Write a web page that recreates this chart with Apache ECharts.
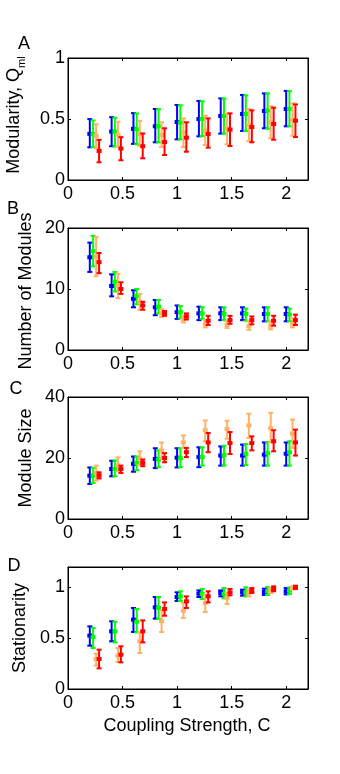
<!DOCTYPE html>
<html>
<head>
<meta charset="utf-8">
<script src="https://cdn.jsdelivr.net/npm/echarts@6/dist/echarts.min.js"></script>
<style>
  html, body { margin: 0; padding: 0; background: #fff; }
  #chart { width: 340px; height: 774px; }
</style>
</head>
<body>
<div id="chart"></div>
<script>
// coupling strengths (blue series position, others shifted right)
const couplings = [0.2, 0.4, 0.6, 0.8, 1.0, 1.2, 1.4, 1.6, 1.8, 2.0]
const shifts = [0, 0.03, 0.058, 0.085]
const seriesColors = ['#0000ff', '#00ff00', '#ffb266', '#ff0000']

// A: modularity [mean, low, high]
const qBlue = [[0.378, 0.268, 0.499], [0.397, 0.277, 0.515], [0.419, 0.296, 0.548], [0.44, 0.309, 0.582], [0.475, 0.333, 0.615], [0.5, 0.358, 0.648], [0.525, 0.38, 0.669], [0.541, 0.402, 0.697], [0.566, 0.424, 0.71], [0.582, 0.44, 0.73]]
const qGreen = [[0.375, 0.27, 0.488], [0.395, 0.274, 0.51], [0.416, 0.293, 0.545], [0.44, 0.309, 0.58], [0.47, 0.333, 0.612], [0.5, 0.36, 0.645], [0.525, 0.38, 0.668], [0.541, 0.402, 0.694], [0.57, 0.42, 0.71], [0.582, 0.44, 0.728]]
const qOrange = [[0.362, 0.26, 0.458], [0.37, 0.274, 0.477], [0.378, 0.28, 0.485], [0.369, 0.27, 0.473], [0.39, 0.27, 0.505], [0.407, 0.287, 0.527], [0.423, 0.292, 0.546], [0.451, 0.32, 0.582], [0.473, 0.342, 0.604], [0.492, 0.363, 0.628]]
const qRed = [[0.238, 0.145, 0.329], [0.258, 0.162, 0.351], [0.277, 0.178, 0.381], [0.311, 0.205, 0.424], [0.347, 0.232, 0.473], [0.377, 0.265, 0.505], [0.413, 0.279, 0.546], [0.434, 0.309, 0.571], [0.459, 0.33, 0.593], [0.486, 0.352, 0.62]]

// B: number of modules
const nBlue = [[15.2, 12.8, 17.6], [10.5, 8.8, 12.4], [8.4, 7.0, 9.8], [7.0, 5.7, 8.2], [6.2, 5.1, 7.3], [6.0, 4.9, 7.1], [6.0, 4.9, 7.0], [6.0, 4.9, 7.0], [5.9, 4.7, 7.0], [5.9, 4.7, 7.0]]
const nGreen = [[16.2, 13.7, 18.7], [11.2, 9.6, 12.8], [8.9, 7.5, 10.0], [7.1, 6.0, 8.2], [6.2, 5.2, 7.2], [6.0, 5.1, 7.0], [5.9, 4.9, 7.0], [5.9, 4.8, 6.8], [5.9, 4.7, 7.0], [5.8, 4.7, 6.8]]
const nOrange = [[15.3, 12.1, 18.5], [10.5, 8.5, 12.5], [7.9, 6.6, 9.2], [6.0, 5.4, 6.7], [5.0, 4.5, 5.6], [4.3, 3.7, 4.9], [4.1, 3.6, 4.7], [3.9, 3.3, 4.7], [4.0, 3.4, 4.7], [4.3, 3.7, 5.2]]
const nRed = [[14.4, 12.6, 15.9], [10.0, 9.2, 11.1], [7.3, 6.6, 7.9], [6.0, 5.6, 6.4], [5.5, 5.0, 6.0], [4.8, 4.1, 5.6], [4.9, 4.3, 5.6], [4.9, 4.2, 5.5], [4.8, 4.0, 5.6], [4.9, 4.1, 5.8]]

// C: module size
const sBlue = [[14.2, 11.5, 16.9], [16.4, 14.0, 19.1], [18.1, 15.5, 20.5], [19.7, 16.7, 23.2], [20.1, 16.9, 23.2], [20.3, 17.0, 23.5], [20.8, 17.5, 23.8], [20.8, 17.5, 24.4], [21.1, 17.5, 25.1], [21.4, 17.5, 25.1]]
const sGreen = [[14.2, 11.8, 16.7], [16.4, 14.0, 19.2], [18.4, 16.0, 20.5], [19.5, 17.0, 22.5], [19.9, 17.0, 23.2], [20.3, 17.5, 23.5], [21.0, 17.5, 24.0], [21.4, 17.7, 24.6], [21.6, 17.5, 25.2], [21.9, 17.5, 25.5]]
const sOrange = [[15.1, 12.6, 17.5], [17.6, 15.6, 20.2], [19.8, 17.7, 22.2], [22.5, 19.7, 25.1], [25.1, 23.3, 27.4], [29.1, 25.5, 32.3], [29.5, 26.3, 32.2], [30.7, 26.6, 34.5], [29.8, 25.1, 34.8], [28.0, 23.3, 32.6]]
const sRed = [[14.3, 13.3, 15.3], [16.4, 15.1, 17.5], [18.4, 17.3, 19.5], [20.0, 18.6, 21.6], [21.9, 20.3, 23.3], [25.1, 21.9, 28.2], [24.9, 21.3, 28.5], [24.9, 22.5, 27.1], [25.5, 22.2, 29.1], [25.1, 20.8, 29.3]]

// D: stationarity
const tBlue = [[0.525, 0.426, 0.616], [0.567, 0.469, 0.666], [0.682, 0.561, 0.797], [0.803, 0.692, 0.905], [0.905, 0.866, 0.951], [0.938, 0.905, 0.97], [0.944, 0.911, 0.97], [0.951, 0.918, 0.977], [0.954, 0.925, 0.987], [0.961, 0.931, 0.993]]
const tGreen = [[0.511, 0.403, 0.6], [0.567, 0.459, 0.662], [0.662, 0.557, 0.787], [0.797, 0.689, 0.905], [0.911, 0.866, 0.961], [0.934, 0.885, 0.984], [0.938, 0.892, 0.993], [0.954, 0.911, 1.0], [0.961, 0.925, 1.003], [0.967, 0.934, 1.0]]
const tOrange = [[0.295, 0.23, 0.348], [0.328, 0.266, 0.403], [0.469, 0.354, 0.557], [0.666, 0.561, 0.774], [0.77, 0.698, 0.846], [0.846, 0.757, 0.928], [0.895, 0.836, 0.944], [0.944, 0.911, 0.977], [0.97, 0.944, 0.993], [0.993, 0.977, 1.01]]
const tRed = [[0.295, 0.203, 0.387], [0.338, 0.262, 0.42], [0.567, 0.459, 0.675], [0.787, 0.721, 0.852], [0.862, 0.797, 0.911], [0.911, 0.852, 0.961], [0.951, 0.921, 0.984], [0.967, 0.944, 0.993], [0.984, 0.961, 1.01], [1.0, 0.984, 1.016]]

const panels = [
  { yMax: 1, yStep: 0.5, sets: [qBlue, qGreen, qOrange, qRed] },
  { yMax: 20, yStep: 10, sets: [nBlue, nGreen, nOrange, nRed] },
  { yMax: 40, yStep: 20, sets: [sBlue, sGreen, sOrange, sRed] },
  { yMax: 1.2, yStep: 0.5, sets: [tBlue, tGreen, tOrange, tRed] },
]

const font = "'Liberation Sans', Arial, Helvetica, sans-serif"
const fs = 18
const gridTops = [58, 228, 397, 567]

// error bar: vertical line, caps, small square marker
function renderBar(params, api) {
  const x = api.value(0)
  const mid = api.coord([x, api.value(1)])
  const lo = api.coord([x, api.value(2)])
  const hi = api.coord([x, api.value(3)])
  const color = api.visual('color')
  const st = { stroke: color, lineWidth: 2 }
  return {
    type: 'group',
    children: [
      { type: 'line', shape: { x1: mid[0], y1: hi[1], x2: mid[0], y2: lo[1] }, style: st },
      { type: 'line', shape: { x1: mid[0] - 2.5, y1: hi[1], x2: mid[0] + 2.5, y2: hi[1] }, style: st },
      { type: 'line', shape: { x1: mid[0] - 2.5, y1: lo[1], x2: mid[0] + 2.5, y2: lo[1] }, style: st },
      { type: 'rect', shape: { x: mid[0] - 2.5, y: mid[1] - 2, width: 5, height: 4 }, style: { fill: color } },
    ],
  }
}

const grid = []
const xAxis = []
const yAxis = []
const series = []

const tickStyle = { show: true, inside: true, length: 3, lineStyle: { color: '#000', width: 1 } }
const lineStyle = { show: true, onZero: false, lineStyle: { color: '#000', width: 1 } }
const labelStyle = { color: '#000', fontSize: fs, fontFamily: font }

panels.forEach((p, i) => {
  grid.push({ left: 68, top: gridTops[i], width: 240, height: 122, show: true, borderColor: '#000', borderWidth: 1, backgroundColor: '#fff' })
  xAxis.push({
    type: 'value', gridIndex: i, position: 'bottom', min: 0, max: 2.2, interval: 0.5,
    axisLine: lineStyle, axisTick: tickStyle, splitLine: { show: false },
    axisLabel: Object.assign({ margin: 5, showMaxLabel: false }, labelStyle),
  })
  xAxis.push({
    type: 'value', gridIndex: i, position: 'top', min: 0, max: 2.2, interval: 0.5,
    axisLine: lineStyle, axisTick: tickStyle, splitLine: { show: false }, axisLabel: { show: false },
  })
  yAxis.push({
    type: 'value', gridIndex: i, position: 'left', min: 0, max: p.yMax, interval: p.yStep,
    axisLine: lineStyle, axisTick: tickStyle, splitLine: { show: false },
    axisLabel: Object.assign({ margin: 3, showMaxLabel: p.yMax !== 1.2 }, labelStyle),
  })
  yAxis.push({
    type: 'value', gridIndex: i, position: 'right', min: 0, max: p.yMax, interval: p.yStep,
    axisLine: lineStyle, axisTick: tickStyle, splitLine: { show: false }, axisLabel: { show: false },
  })
  p.sets.forEach((set, k) => {
    series.push({
      type: 'custom',
      xAxisIndex: i * 2,
      yAxisIndex: i * 2,
      itemStyle: { color: seriesColors[k] },
      renderItem: renderBar,
      clip: false,
      data: set.map((d, j) => [couplings[j] + shifts[k], d[0], d[1], d[2]]),
    })
  })
})

function txt(text, x, y, rotate) {
  return {
    type: 'text', x: x, y: y, rotation: rotate ? Math.PI / 2 : 0,
    style: { text: text, font: fs + 'px ' + font, fill: '#000', textAlign: 'center', textVerticalAlign: 'middle' },
  }
}

const graphic = [
  txt('A', 24, 44),
  txt('B', 13, 209),
  txt('C', 16, 389),
  txt('D', 14, 566),
  {
    type: 'text', x: 14, y: 115, rotation: Math.PI / 2,
    style: {
      text: '{a|Modularity, Q}{s|ml}', fill: '#000', textAlign: 'center', textVerticalAlign: 'middle',
      rich: {
        a: { fontSize: fs, fontFamily: font, lineHeight: 26, verticalAlign: 'middle' },
        s: { fontSize: 11, fontFamily: font, lineHeight: 26, verticalAlign: 'bottom' },
      },
    },
  },
  txt('Number of Modules', 26, 291, true),
  txt('Module Size', 26, 458, true),
  txt('Stationarity', 20, 628, true),
  txt('Coupling Strength, C', 187, 726),
]

const chart = echarts.init(document.getElementById('chart'), null, { renderer: 'canvas' })
chart.setOption({
  animation: false,
  backgroundColor: '#fff',
  grid: grid,
  xAxis: xAxis,
  yAxis: yAxis,
  series: series,
  graphic: graphic,
})
</script>
</body>
</html>
